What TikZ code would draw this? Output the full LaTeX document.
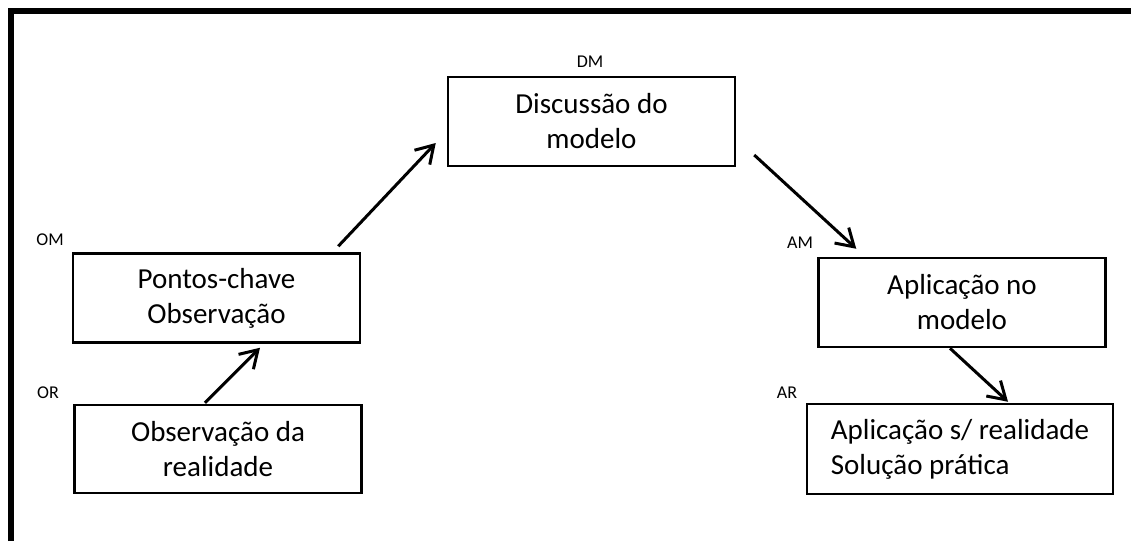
\documentclass[tikz,border=0pt]{standalone}
\usepackage{fontspec}
\setmainfont{Carlito}
\usetikzlibrary{arrows.meta,calc}
\tikzset{
  etapa/.style={draw,line width=2.5pt,minimum width=287pt,minimum height=89pt,inner sep=0pt,align=center,font=\fontsize{29}{35}\selectfont},
  rotulo/.style={font=\fontsize{18}{20}\selectfont,inner sep=0pt},
  seta/.style={line width=3pt,-{Straight Barb[length=17pt,width=21pt]}}
}
\begin{document}
\begin{tikzpicture}[x=1pt,y=-1pt]
  \useasboundingbox (0,0) rectangle (1131,541);
  \draw[line width=6pt] (11,541) -- (11,11) -- (1131,11);
  % etapas
  \node[etapa] (dm) at (591.5,121.5) {Discussão do\\modelo};
  \node[etapa] (om) at (216.5,298) {Pontos-chave\\Observação};
  \node[etapa,minimum height=88pt] (or) at (218,449) {Observação da\\realidade};
  \node[etapa] (am) at (962,302.5) {Aplicação no\\modelo};
  \node[etapa,minimum width=306pt,minimum height=90pt,align=left] (ar) at (960,449) {Aplicação s/ realidade\\Solução prática};
  % rotulos
  \node[rotulo] (dmlbl) at (590,62) {DM};
  \node[rotulo] (omlbl) at (50,240) {OM};
  \node[rotulo] (orlbl) at (48,393) {OR};
  \node[rotulo] (amlbl) at (800,243) {AM};
  \node[rotulo] (arlbl) at (787,393) {AR};
  % setas
  \draw[seta] ($(or.north)+(-13,-1)$) -- ($(om.south)+(43.5,4)$);
  \draw[seta] ($(om.north east)+(-23,-6)$) -- ($(dm.west)+(-11,21.5)$);
  \draw[seta] ($(dm.east)+(18,33.5)$) -- ($(am.north west)+(39,-8)$);
  \draw[seta] ($(am.south)+(-12,0)$) -- ($(ar.north)+(48,-1)$);
\end{tikzpicture}
\end{document}
